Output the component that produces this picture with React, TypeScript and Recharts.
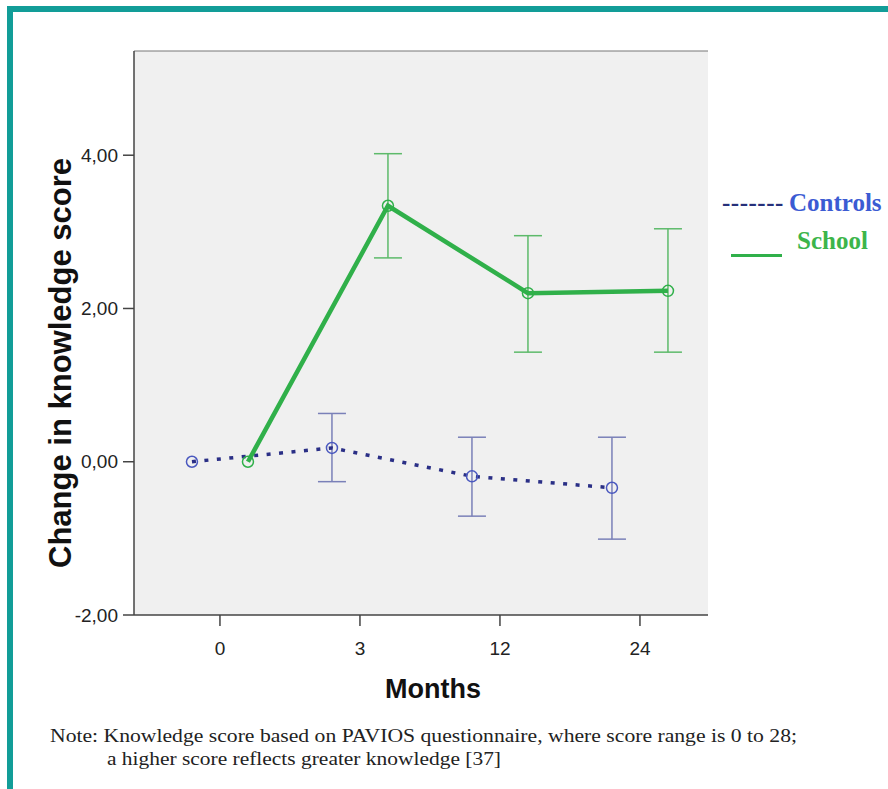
import {
  ComposedChart,
  Line,
  XAxis,
  YAxis,
  CartesianGrid,
  ErrorBar,
  ReferenceLine,
  Legend,
  Label,
} from 'recharts';

// follow-up points (categorical, shown as numeric positions 0..3)
const monthLabels = ['0', '3', '12', '24'];

const controlsMean = [0, 0.18, -0.19, -0.34];
const controlsLow = [null, -0.26, -0.71, -1.01];
const controlsHigh = [null, 0.63, 0.32, 0.32];

const schoolMean = [0, 3.34, 2.2, 2.23];
const schoolLow = [null, 2.66, 1.43, 1.43];
const schoolHigh = [null, 4.02, 2.95, 3.04];

const yTicks = [-2, 0, 2, 4];
const Y_MIN = -2;
const Y_MAX = 5.36;
const DODGE = 0.2;

const TEAL = '#129d98';
const NAVY = '#2a2f86';
const BLUE_DOT = '#4a58bf';
const BLUE_ERR = '#7a80b8';
const GREEN = '#30b04a';
const GREEN_ERR = '#5dba6a';

function buildSeries(mean: number[], low: (number | null)[], high: (number | null)[], shift: number) {
  return mean.map((v, i) => ({
    x: i + shift,
    y: v,
    err: low[i] == null || high[i] == null ? null : [v - (low[i] as number), (high[i] as number) - v],
  }));
}

const controlsData = buildSeries(controlsMean, controlsLow, controlsHigh, -DODGE);
const schoolData = buildSeries(schoolMean, schoolLow, schoolHigh, DODGE);

const sans = '"Liberation Sans", Arial, sans-serif';
const serif = '"Liberation Serif", "Times New Roman", serif';

function LegendBox() {
  return (
    <div style={{ position: 'relative', width: 168, height: 90, fontFamily: serif, fontWeight: 'bold', fontSize: 25, lineHeight: '28px' }}>
      <span style={{ position: 'absolute', left: 2, top: 4, color: '#26307a', letterSpacing: 0.5 }}>-------</span>
      <span style={{ position: 'absolute', left: 69, top: 4, color: '#3b5bd3' }}>Controls</span>
      <div style={{ position: 'absolute', left: 11, top: 69, width: 51, height: 2.5, background: GREEN }} />
      <span style={{ position: 'absolute', left: 77, top: 42, color: '#3cb54a' }}>School</span>
    </div>
  );
}

export default function App() {
  return (
    <div style={{ position: 'absolute', left: 0, top: 0, width: 888, height: 789, background: '#fff', overflow: 'hidden' }}>
      <div
        style={{
          position: 'absolute',
          left: 7,
          top: 6,
          width: 900,
          height: 800,
          borderLeft: `6px solid ${TEAL}`,
          borderTop: `6px solid ${TEAL}`,
        }}
      />
      <div style={{ position: 'absolute', left: 0, top: 0 }}>
        <ComposedChart width={888} height={789} margin={{ top: 51, right: 180, bottom: 144, left: 0 }}>
          <CartesianGrid horizontal={false} vertical={false} fill="#f0f0f0" />
          <XAxis
            dataKey="x"
            type="number"
            domain={[-0.614, 3.486]}
            ticks={[0, 1, 2, 3]}
            tickFormatter={(i: number) => monthLabels[i]}
            height={30}
            allowDataOverflow
            tickSize={11}
            tickMargin={16}
            axisLine={{ stroke: '#444', strokeWidth: 1.5 }}
            tickLine={{ stroke: '#444', strokeWidth: 1.5 }}
            tick={{ fill: '#222', fontSize: 19, fontFamily: sans }}
          >
            <Label
              value="Months"
              position="center"
              dx={12}
              dy={58}
              style={{ fill: '#111', fontSize: 27, fontWeight: 'bold', fontFamily: sans }}
            />
          </XAxis>
          <YAxis
            type="number"
            domain={[Y_MIN, Y_MAX]}
            ticks={yTicks}
            width={134}
            allowDataOverflow
            tickFormatter={(v: number) => v.toFixed(2).replace('.', ',')}
            tickSize={11}
            tickMargin={5}
            axisLine={{ stroke: '#444', strokeWidth: 1.5 }}
            tickLine={{ stroke: '#444', strokeWidth: 1.5 }}
            tick={{ fill: '#222', fontSize: 19, fontFamily: sans }}
          >
            <Label
              value="Change in knowledge score"
              position="center"
              angle={-90}
              dx={-7}
              dy={30}
              style={{ fill: '#111', fontSize: 31, fontWeight: 'bold', fontFamily: sans }}
            />
          </YAxis>
          <ReferenceLine y={Y_MAX} stroke="#777" strokeWidth={1} />
          <Legend
            layout="horizontal"
            verticalAlign="middle"
            align="center"
            wrapperStyle={{ left: 720, top: 185, width: 168 }}
            content={() => <LegendBox />}
          />
          <Line
            name="Controls"
            data={controlsData}
            dataKey="y"
            stroke={NAVY}
            strokeWidth={3.5}
            strokeDasharray="4 8.5"
            dot={{ r: 5.5, fill: 'none', stroke: BLUE_DOT, strokeWidth: 1.5, strokeDasharray: '0' }}
            isAnimationActive={false}
          >
            <ErrorBar dataKey="err" direction="y" width={14} stroke={BLUE_ERR} strokeWidth={1.5} />
          </Line>
          <Line
            name="School"
            data={schoolData}
            dataKey="y"
            stroke={GREEN}
            strokeWidth={4.5}
            dot={{ r: 5.5, fill: 'none', stroke: GREEN, strokeWidth: 1.5 }}
            isAnimationActive={false}
          >
            <ErrorBar dataKey="err" direction="y" width={14} stroke={GREEN_ERR} strokeWidth={1.5} />
          </Line>
        </ComposedChart>
      </div>
      <svg width={888} height={789} style={{ position: 'absolute', left: 0, top: 0, pointerEvents: 'none' }}>
        <text x={50} y={742} fontFamily={serif} fontSize={19} fill="#222" textLength={747} lengthAdjust="spacingAndGlyphs">
          Note: Knowledge score based on PAVIOS questionnaire, where score range is 0 to 28;
        </text>
        <text x={107} y={765} fontFamily={serif} fontSize={19} fill="#222" textLength={394} lengthAdjust="spacingAndGlyphs">
          a higher score reflects greater knowledge [37]
        </text>
      </svg>
    </div>
  );
}
